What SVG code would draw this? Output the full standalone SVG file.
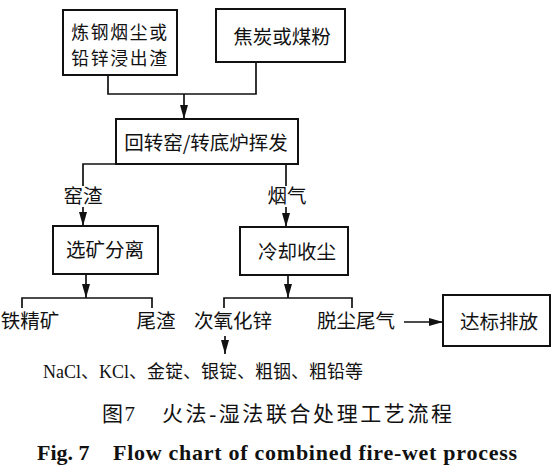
<svg xmlns="http://www.w3.org/2000/svg" width="557" height="473" viewBox="0 0 557 473">
<style>
.box{fill:#fff;stroke:#111;stroke-width:2}
.ln{fill:none;stroke:#111;stroke-width:1.7}
.t{font-family:"Noto Sans CJK SC","Liberation Sans",sans-serif;font-size:19.5px;fill:#111;text-anchor:middle}
.t2{font-size:17.8px;letter-spacing:1.7px}
.s{font-family:"Liberation Serif","Noto Sans CJK SC",serif;fill:#111}
</style>
<defs>
<marker id="ah" viewBox="0 0 14 8" refX="14" refY="4" markerWidth="14" markerHeight="8" orient="auto" markerUnits="userSpaceOnUse">
<path d="M0,0 L14,4 L0,8 Z" fill="#111"/>
</marker>
</defs>
<rect width="557" height="473" fill="#fff"/>
<g id="connectors">
<polyline class="ln" points="108,75 108,94 256,94 256,62"/>
<line class="ln" x1="184" y1="94" x2="184" y2="119" marker-end="url(#ah)"/>
<polyline class="ln" points="116,164 83,164 83,186"/>
<line class="ln" x1="83" y1="207" x2="83" y2="226" marker-end="url(#ah)"/>
<line class="ln" x1="286" y1="164" x2="286" y2="186"/>
<line class="ln" x1="286" y1="207" x2="286" y2="227" marker-end="url(#ah)"/>
<line class="ln" x1="86" y1="274" x2="86" y2="298" marker-end="url(#ah)"/>
<polyline class="ln" points="22,308 22,298 152,298 152,308"/>
<line class="ln" x1="288" y1="275" x2="288" y2="298" marker-end="url(#ah)"/>
<polyline class="ln" points="224,308 224,298 352,298 352,308"/>
<line class="ln" x1="225" y1="336" x2="225" y2="354" marker-end="url(#ah)"/>
<line class="ln" x1="404" y1="322" x2="443" y2="322" marker-end="url(#ah)"/>
</g>
<g id="n1">
<rect class="box" x="63" y="10" width="114" height="65"/>
<text class="t t2" x="120" y="39">炼钢烟尘或</text>
<text class="t t2" x="120" y="65">铅锌浸出渣</text>
</g>
<g id="n2">
<rect class="box" x="216" y="9" width="129" height="53"/>
<text class="t" x="282" y="44">焦炭或煤粉</text>
</g>
<g id="n3">
<rect class="box" x="116" y="119" width="182" height="45"/>
<text class="t" x="206" y="150">回转窑/转底炉挥发</text>
</g>
<g id="l_yz"><text class="t" x="83" y="203">窑渣</text></g>
<g id="l_yq"><text class="t" x="287" y="203">烟气</text></g>
<g id="n4">
<rect class="box" x="53" y="226" width="105" height="48"/>
<text class="t" x="105" y="257">选矿分离</text>
</g>
<g id="n5">
<rect class="box" x="240" y="227" width="108" height="48"/>
<text class="t" x="297" y="259">冷却收尘</text>
</g>
<g id="o1"><text class="t" x="30" y="328">铁精矿</text></g>
<g id="o2"><text class="t" x="156" y="328">尾渣</text></g>
<g id="o3"><text class="t" x="233" y="328">次氧化锌</text></g>
<g id="o4"><text class="t" x="356" y="328">脱尘尾气</text></g>
<g id="n6">
<rect class="box" x="443" y="295" width="107" height="51"/>
<text class="t" x="499" y="329">达标排放</text>
</g>
<g id="o5"><text class="s" x="43" y="378" font-size="18" textLength="320" lengthAdjust="spacing">NaCl、KCl、金锭、银锭、粗铟、粗铅等</text></g>
<g id="caption">
<text class="s" x="102" y="421" font-size="21" textLength="33" lengthAdjust="spacing">图7</text>
<text class="s" x="162" y="421" font-size="21" textLength="290" lengthAdjust="spacing">火法-湿法联合处理工艺流程</text>
<text class="s" x="37" y="460" font-size="22" font-weight="bold">Fig. 7</text>
<text class="s" x="113" y="460" font-size="22" font-weight="bold" textLength="404" lengthAdjust="spacing">Flow chart of combined fire-wet process</text>
</g>
</svg>
